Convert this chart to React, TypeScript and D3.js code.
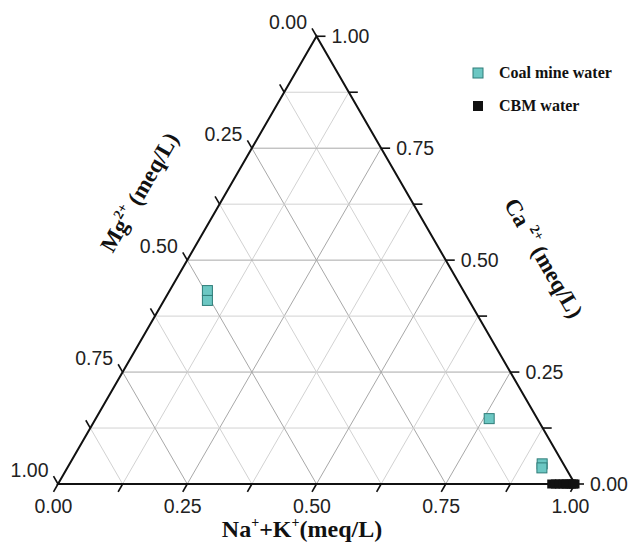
import { useEffect, useRef } from 'react';
import * as d3 from 'd3';

// Coal mine water samples (fractions of meq/L)
const coalNa = [0.073, 0.084, 0.761, 0.914, 0.918];
const coalCa = [0.432, 0.41, 0.146, 0.045, 0.036];
// CBM water samples
const cbmNa = [0.955, 0.962, 0.97, 0.977, 0.983, 0.988, 0.993, 0.997, 1.0];
const cbmCa = [0, 0, 0, 0, 0, 0, 0, 0, 0];

const tickValues = [0, 0.125, 0.25, 0.375, 0.5, 0.625, 0.75, 0.875, 1];
const labelValues = [0, 0.25, 0.5, 0.75, 1];

const width = 644;
const height = 544;
const origin = { x: 58, y: 484 };
const side = 517;
const S3 = Math.sqrt(3) / 2;

const serif = "'Liberation Serif', 'Times New Roman', serif";
const sans = "'Liberation Sans', Arial, sans-serif";

const App = () => {
    const svgRef = useRef<SVGSVGElement>(null);

    useEffect(() => {
        const svg = d3.select(svgRef.current);
        svg.selectAll('*').remove();

        const s = d3.scaleLinear().domain([0, 1]).range([0, side]);
        // na, ca -> pixel (mg = 1 - na - ca)
        const px = (na: number, ca: number) => origin.x + s(na + ca / 2);
        const py = (na: number, ca: number) => origin.y - s(ca) * S3;

        const fmt = d3.format('.2f');
        const isMajor = (v: number) => Math.abs(v * 4 - Math.round(v * 4)) < 1e-6;

        // grid
        const grid = svg.append('g');
        tickValues.slice(1, -1).forEach(v => {
            const col = isMajor(v) ? '#a8a8a8' : '#d2d2d2';
            // Ca constant (horizontal)
            grid.append('line')
                .attr('x1', px(0, v)).attr('y1', py(0, v))
                .attr('x2', px(1 - v, v)).attr('y2', py(1 - v, v))
                .attr('stroke', col).attr('stroke-width', 1);
            // Na constant (parallel to left edge)
            grid.append('line')
                .attr('x1', px(v, 0)).attr('y1', py(v, 0))
                .attr('x2', px(v, 1 - v)).attr('y2', py(v, 1 - v))
                .attr('stroke', col).attr('stroke-width', 1);
            // Mg constant (parallel to right edge)
            grid.append('line')
                .attr('x1', px(1 - v, 0)).attr('y1', py(1 - v, 0))
                .attr('x2', px(0, 1 - v)).attr('y2', py(0, 1 - v))
                .attr('stroke', col).attr('stroke-width', 1);
        });

        // triangle frame
        svg.append('path')
            .attr('d', `M${px(0, 0)},${py(0, 0)}L${px(1, 0)},${py(1, 0)}L${px(0, 1)},${py(0, 1)}Z`)
            .attr('fill', 'none')
            .attr('stroke', '#111')
            .attr('stroke-width', 2);

        const tl = 9;
        const axes = svg.append('g').attr('stroke', '#111').attr('stroke-width', 1.6);

        // bottom axis Na+K
        tickValues.forEach(v => {
            const x = px(v, 0), y = py(v, 0);
            axes.append('line').attr('x1', x).attr('y1', y)
                .attr('x2', x - tl * 0.5).attr('y2', y + tl * S3);
        });
        // right axis Ca
        tickValues.forEach(v => {
            const x = px(1 - v, v), y = py(1 - v, v);
            axes.append('line').attr('x1', x).attr('y1', y)
                .attr('x2', x + tl).attr('y2', y);
        });
        // left axis Mg
        tickValues.forEach(v => {
            const x = px(0, 1 - v), y = py(0, 1 - v);
            axes.append('line').attr('x1', x).attr('y1', y)
                .attr('x2', x - tl * 0.5).attr('y2', y - tl * S3);
        });

        const labels = svg.append('g')
            .attr('font-family', sans)
            .attr('font-size', 19.5)
            .attr('fill', '#222');

        labelValues.forEach(v => {
            labels.append('text')
                .attr('x', px(v, 0) - tl * 0.5)
                .attr('y', py(v, 0) + tl * S3 + 21)
                .attr('text-anchor', 'middle')
                .text(fmt(v));
            labels.append('text')
                .attr('x', px(1 - v, v) + tl + 6)
                .attr('y', py(1 - v, v) + 7)
                .text(fmt(v));
            labels.append('text')
                .attr('x', px(0, 1 - v) - tl * 0.5 - 5)
                .attr('y', py(0, 1 - v) - tl * S3 + 1)
                .attr('text-anchor', 'end')
                .text(fmt(v));
        });

        // axis titles
        const titles = svg.append('g')
            .attr('font-family', serif)
            .attr('font-weight', 'bold')
            .attr('font-size', 23)
            .attr('fill', '#111');

        const bt = titles.append('text')
            .attr('x', 302).attr('y', 537)
            .attr('font-size', 24)
            .attr('text-anchor', 'middle');
        bt.append('tspan').text('Na');
        bt.append('tspan').attr('dy', -10).attr('font-size', 14).text('+');
        bt.append('tspan').attr('dy', 10).text('+K');
        bt.append('tspan').attr('dy', -10).attr('font-size', 14).text('+');
        bt.append('tspan').attr('dy', 10).text('(meq/L)');

        const lt = titles.append('text')
            .attr('transform', 'translate(146,196) rotate(-60)')
            .attr('text-anchor', 'middle');
        lt.append('tspan').text('Mg');
        lt.append('tspan').attr('dy', -10).attr('font-size', 14).text('2+');
        lt.append('tspan').attr('dy', 10).text(' (meq/L)');

        const rt = titles.append('text')
            .attr('transform', 'translate(537,262) rotate(60)')
            .attr('text-anchor', 'middle');
        rt.append('tspan').text('Ca ');
        rt.append('tspan').attr('dy', -10).attr('font-size', 14).text('2+');
        rt.append('tspan').attr('dy', 10).text(' (meq/L)');

        // data
        const coal = coalNa.map((na, i) => ({ na, ca: coalCa[i] }));
        const cbm = cbmNa.map((na, i) => ({ na, ca: cbmCa[i] }));

        svg.append('g')
            .selectAll('rect')
            .data(cbm)
            .join('rect')
            .attr('x', d => px(d.na, d.ca) - 4.5)
            .attr('y', d => py(d.na, d.ca) - 4.5)
            .attr('width', 9)
            .attr('height', 9)
            .attr('fill', '#111');

        svg.append('g')
            .selectAll('rect')
            .data(coal)
            .join('rect')
            .attr('x', d => px(d.na, d.ca) - 5)
            .attr('y', d => py(d.na, d.ca) - 5)
            .attr('width', 10)
            .attr('height', 10)
            .attr('fill', '#6cc7c3')
            .attr('stroke', '#2f7d79')
            .attr('stroke-width', 1);

        // legend
        const legend = svg.append('g').attr('transform', 'translate(473,68)');
        legend.append('rect')
            .attr('width', 10).attr('height', 10)
            .attr('fill', '#6cc7c3').attr('stroke', '#2f7d79');
        legend.append('text')
            .attr('x', 26).attr('y', 10)
            .attr('font-family', serif).attr('font-weight', 'bold').attr('font-size', 16)
            .attr('fill', '#111')
            .text('Coal mine water');
        legend.append('rect')
            .attr('y', 33).attr('width', 10).attr('height', 10)
            .attr('fill', '#111');
        legend.append('text')
            .attr('x', 26).attr('y', 43)
            .attr('font-family', serif).attr('font-weight', 'bold').attr('font-size', 16)
            .attr('fill', '#111')
            .text('CBM water');
    }, []);

    return (
        <svg
            ref={svgRef}
            width={width}
            height={height}
            style={{ position: 'absolute', left: 0, top: 0, background: '#fff' }}
        ></svg>
    );
};

export default App;
